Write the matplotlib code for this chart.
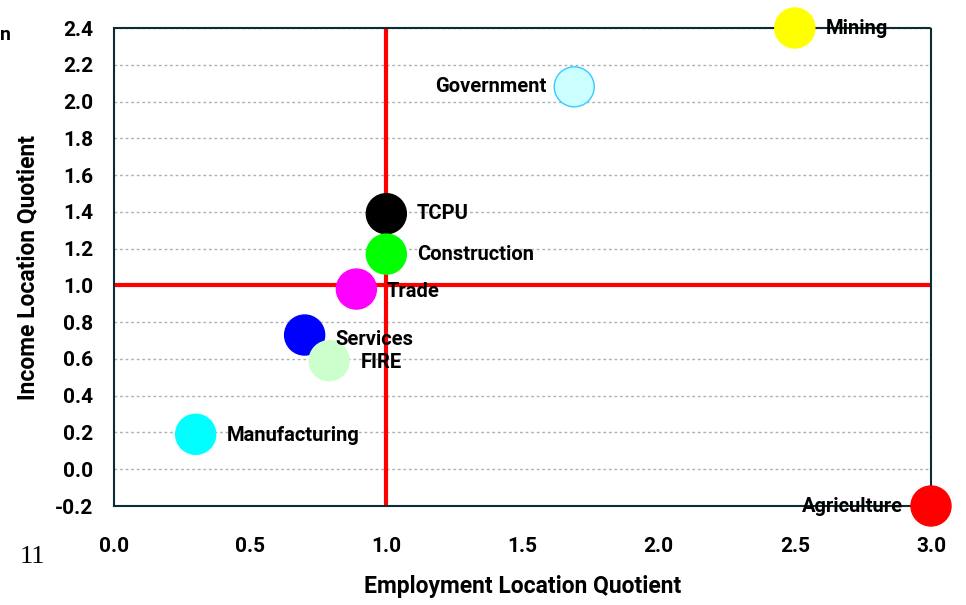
import matplotlib
matplotlib.use('Agg')
import matplotlib.pyplot as plt
import numpy as np

plt.rcParams['font.family'] = ['Roboto', 'DejaVu Sans']

# data
sectors = ['Mining', 'Government', 'TCPU', 'Construction', 'Trade',
           'Services', 'FIRE', 'Manufacturing', 'Agriculture']
employment_lq = [2.50, 1.69, 1.00, 1.00, 0.89, 0.70, 0.79, 0.30, 3.00]
income_lq = [2.40, 2.08, 1.39, 1.17, 0.98, 0.73, 0.59, 0.19, -0.20]
face_colors = ['#ffff00', '#ccffff', '#000000', '#00ff00', '#ff00ff',
               '#0000ff', '#ccffcc', '#00ffff', '#ff0000']
edge_colors = ['#ffff00', '#33ccff', '#000000', '#00ff00', '#ff00ff',
               '#0000ff', '#ccffcc', '#00ffff', '#ff0000']
# label offsets in points and alignment
label_offsets = [(22, 0), (-20, 0), (22, 0), (22, 0), (22, -2),
                 (22, -3), (23, -1), (22, -1), (-20, 0)]
label_align = ['left', 'right', 'left', 'left', 'left',
               'left', 'left', 'left', 'right']

x_ticks = np.arange(0, 3.01, 0.5)
y_ticks = np.arange(-0.2, 2.41, 0.2)

fig = plt.figure(figsize=(9.66, 6.05), dpi=100)
ax = fig.add_axes([114/966, 1 - 506/605, (931-114)/966, (506-28)/605])

ax.set_xlim(0, 3.0)
ax.set_ylim(-0.2, 2.4)

for yv in y_ticks:
    ax.axhline(yv, color='#b0b0b0', lw=1, ls=(0, (2, 2)), zorder=0)

ax.axvline(1.0, color='#ff0000', lw=3, zorder=1)
ax.axhline(1.0, color='#ff0000', lw=3, zorder=1)

for sp in ax.spines.values():
    sp.set_linestyle((0, (1.5, 1)))
    sp.set_color('#0d2b33')
    sp.set_linewidth(1.5)

ax.scatter(employment_lq, income_lq, s=830, c=face_colors,
           edgecolors=edge_colors, linewidths=1, zorder=3, clip_on=False)

for name, x, y, off, ha in zip(sectors, employment_lq, income_lq, label_offsets, label_align):
    ax.annotate(name, (x, y), xytext=off, textcoords='offset points',
                ha=ha, va='center', fontsize=14.5, fontweight='bold',
                zorder=5, annotation_clip=False)

ax.set_xticks(x_ticks)
ax.set_xticklabels(['%.1f' % v for v in x_ticks])
ax.set_yticks(y_ticks)
ax.set_yticklabels(['%.1f' % v for v in y_ticks])
ax.tick_params(length=0, labelsize=15)
ax.tick_params(axis='x', pad=22)
ax.tick_params(axis='y', pad=15)
for lbl in ax.get_xticklabels() + ax.get_yticklabels():
    lbl.set_fontweight('bold')

ax.set_xlabel('Employment Location Quotient', fontsize=16.5, fontweight='bold', labelpad=14)
ax.set_ylabel('Income Location Quotient', fontsize=16.5, fontweight='bold', labelpad=11)

fig.text(0, 1 - 35/605, 'n', fontsize=14, fontweight='bold', va='center')
fig.text(20/966, 1 - 557/605, '11', fontsize=19, family='Liberation Serif', va='center')

fig.savefig('out.png', dpi=100)
